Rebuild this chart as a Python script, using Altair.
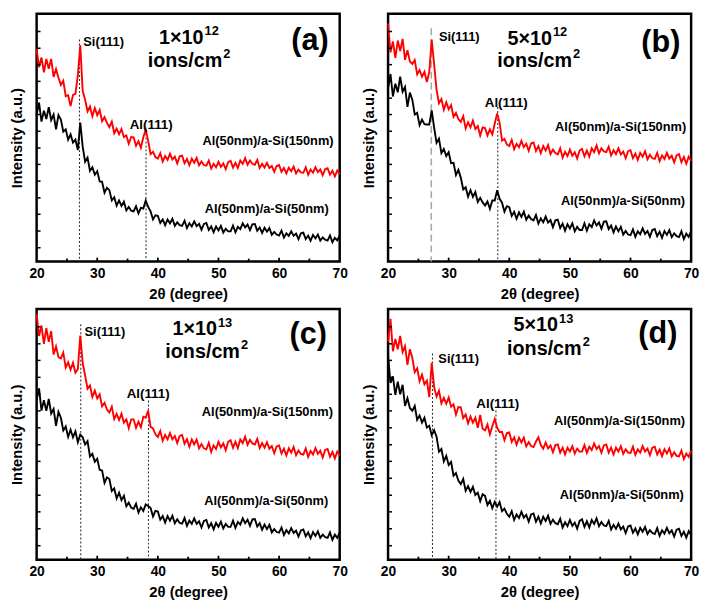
import altair as alt
import pandas as pd

# 2-theta sampling grid (degrees), 0.4 deg steps from 20 to 70
two_theta = [round(20 + 0.4 * i, 1) for i in range(126)]

# ---- panel (a) 1x10^12 ions/cm2 ----
a_red = [660, 604, 634, 588, 630, 599, 630, 574, 598, 571,
         549, 562, 514, 517, 483, 518, 521, 579, 672, 530,
         503, 467, 482, 452, 477, 455, 471, 436, 449, 431,
         418, 435, 399, 413, 396, 412, 387, 392, 366, 387,
         386, 360, 374, 354, 386, 410, 375, 334, 341, 325,
         320, 337, 311, 328, 316, 335, 317, 326, 305, 327,
         329, 306, 319, 300, 320, 307, 322, 299, 311, 300,
         298, 314, 289, 304, 293, 310, 294, 305, 287, 309,
         313, 292, 307, 291, 314, 304, 322, 301, 314, 304,
         301, 316, 291, 304, 292, 307, 291, 297, 279, 297,
         300, 279, 291, 274, 292, 281, 295, 274, 286, 277,
         276, 293, 270, 286, 276, 293, 278, 286, 268, 287,
         290, 270, 282, 265, 283, 272]
a_black = [457, 494, 435, 469, 443, 480, 440, 457, 411, 455,
           441, 404, 411, 379, 395, 370, 379, 347, 432, 357,
           310, 323, 282, 293, 270, 281, 249, 248, 214, 229,
           222, 190, 200, 174, 190, 173, 186, 159, 170, 158,
           156, 172, 150, 167, 165, 190, 170, 156, 131, 144,
           142, 120, 131, 113, 131, 119, 133, 111, 122, 113,
           111, 127, 104, 119, 109, 125, 110, 117, 99, 117,
           120, 98, 109, 91, 109, 97, 111, 90, 102, 94,
           94, 112, 91, 108, 101, 119, 106, 115, 98, 116,
           117, 96, 106, 89, 105, 93, 104, 83, 92, 84,
           81, 96, 75, 88, 80, 94, 80, 87, 70, 88,
           90, 70, 81, 65, 83, 72, 84, 65, 75, 68,
           65, 81, 60, 74, 66, 81]

# ---- panel (b) 5x10^12 ions/cm2 ----
b_red = [740, 650, 684, 633, 687, 654, 692, 627, 657, 622,
         614, 626, 582, 595, 575, 590, 558, 589, 690, 613,
         533, 492, 505, 472, 495, 473, 486, 450, 462, 443,
         434, 452, 414, 433, 417, 438, 412, 421, 392, 417,
         415, 392, 411, 395, 429, 460, 432, 376, 381, 364,
         359, 378, 349, 366, 355, 375, 356, 366, 344, 367,
         370, 344, 359, 337, 359, 345, 362, 334, 348, 337,
         333, 352, 323, 341, 328, 348, 329, 340, 320, 345,
         350, 327, 345, 326, 352, 340, 361, 336, 352, 342,
         340, 357, 330, 346, 334, 352, 333, 342, 321, 343,
         346, 321, 336, 316, 338, 326, 343, 318, 332, 321,
         319, 338, 312, 330, 319, 338, 320, 329, 308, 330,
         334, 309, 325, 304, 326, 313]
b_black = [539, 583, 513, 553, 526, 575, 528, 543, 481, 525,
           503, 457, 462, 424, 441, 427, 426, 426, 470, 416,
           369, 382, 337, 350, 328, 340, 306, 307, 269, 285,
           261, 224, 231, 202, 222, 201, 216, 185, 198, 184,
           174, 187, 164, 190, 190, 222, 195, 183, 155, 172,
           169, 142, 155, 133, 153, 139, 155, 130, 143, 132,
           128, 145, 118, 134, 122, 140, 121, 129, 107, 128,
           130, 104, 118, 96, 116, 103, 119, 94, 108, 98,
           98, 119, 96, 116, 107, 128, 112, 122, 102, 124,
           125, 101, 112, 91, 109, 94, 108, 84, 95, 84,
           82, 100, 77, 94, 85, 103, 86, 95, 77, 98,
           101, 79, 93, 74, 95, 83, 98, 76, 88, 79,
           76, 94, 70, 87, 77, 95]

# ---- panel (c) 1x10^13 ions/cm2 ----
c_red = [755, 687, 719, 663, 711, 669, 702, 630, 655, 622,
         618, 636, 590, 606, 584, 605, 574, 585, 688, 604,
         566, 525, 535, 500, 519, 495, 508, 471, 482, 461,
         452, 470, 432, 448, 429, 448, 421, 431, 404, 431,
         431, 405, 424, 407, 439, 436, 458, 408, 403, 385,
         377, 395, 365, 383, 370, 389, 370, 380, 358, 380,
         383, 356, 370, 347, 369, 354, 369, 342, 355, 342,
         339, 359, 331, 351, 340, 362, 345, 357, 336, 362,
         367, 344, 362, 343, 369, 358, 378, 353, 368, 357,
         354, 371, 343, 358, 344, 361, 341, 349, 327, 348,
         351, 326, 341, 320, 342, 329, 346, 321, 335, 325,
         323, 342, 316, 334, 323, 343, 325, 335, 314, 337,
         340, 316, 331, 311, 332, 320]
c_black = [491, 526, 458, 490, 457, 494, 449, 463, 411, 454,
           436, 397, 409, 377, 399, 376, 394, 361, 384, 376,
           354, 364, 317, 325, 301, 310, 276, 274, 236, 253,
           248, 211, 219, 188, 206, 183, 196, 164, 175, 160,
           156, 172, 145, 161, 150, 170, 165, 159, 133, 150,
           148, 123, 134, 114, 134, 120, 135, 112, 124, 113,
           111, 128, 104, 120, 110, 127, 110, 118, 99, 119,
           122, 99, 112, 93, 113, 101, 117, 96, 110, 101,
           101, 120, 98, 116, 108, 127, 112, 123, 104, 124,
           125, 102, 112, 92, 108, 94, 107, 84, 94, 85,
           83, 99, 76, 91, 81, 97, 82, 89, 71, 90,
           93, 72, 84, 66, 85, 73, 87, 67, 77, 69,
           67, 84, 61, 77, 67, 84]

# ---- panel (d) 5x10^13 ions/cm2 ----
d_red = [669, 740, 640, 678, 646, 687, 638, 656, 598, 646,
         620, 576, 588, 548, 568, 539, 550, 499, 605, 530,
         501, 519, 480, 497, 479, 498, 470, 477, 446, 469,
         468, 435, 446, 419, 440, 421, 436, 405, 445, 402,
         397, 415, 385, 410, 432, 405, 392, 393, 367, 389,
         391, 362, 376, 353, 375, 360, 375, 348, 361, 349,
         346, 363, 376, 352, 341, 360, 342, 351, 330, 352,
         354, 329, 344, 323, 344, 332, 349, 326, 341, 332,
         332, 352, 328, 347, 337, 357, 340, 349, 329, 351,
         354, 329, 344, 323, 344, 332, 349, 325, 339, 329,
         328, 347, 322, 339, 329, 349, 332, 341, 321, 344,
         347, 323, 338, 318, 339, 326, 342, 317, 330, 319,
         317, 335, 309, 326, 316, 335]
d_black = [625, 543, 563, 506, 547, 508, 537, 472, 496, 466,
           457, 472, 430, 443, 421, 436, 406, 411, 382, 398,
           378, 332, 340, 302, 319, 291, 300, 258, 266, 243,
           232, 248, 212, 226, 208, 224, 199, 206, 180, 201,
           196, 168, 181, 158, 178, 163, 177, 149, 157, 141,
           132, 149, 122, 139, 128, 147, 129, 138, 117, 139,
           142, 117, 132, 111, 132, 119, 135, 110, 123, 112,
           109, 126, 99, 115, 103, 122, 104, 114, 95, 119,
           124, 101, 118, 99, 122, 110, 127, 103, 116, 105,
           103, 119, 93, 107, 95, 111, 93, 102, 82, 102,
           105, 83, 96, 78, 98, 86, 101, 79, 91, 82,
           79, 97, 73, 90, 80, 98, 81, 90, 71, 92,
           95, 73, 86, 68, 88, 76]

series_names = ["Al(50nm)/a-Si(150nm)", "Al(50nm)/a-Si(50nm)"]
series_colors = ["#ff0000", "#000000"]

# peak marker lines: (2theta, top of line)
a_lines = [(27.07, 690), (38.05, 410)]
b_lines = [(27.13, 725), (38.1, 480)]
c_lines = [(27.28, 723), (38.45, 489)]
d_lines = [(27.33, 633), (37.8, 458)]

# dose texts: (base, exponent)
a_dose = [("1×10", "12"), ("ions/cm", "2"), "(a)"]
b_dose = [("5×10", "12"), ("ions/cm", "2"), "(b)"]
c_dose = [("1×10", "13"), ("ions/cm", "2"), "(c)"]
d_dose = [("5×10", "13"), ("ions/cm", "2"), "(d)"]

# annotation anchors (2theta, intensity)
a_pos = {"si": (27.7, 683), "dose": (45.1, 695), "ions": (45.1, 623), "tag": (65.1, 685),
         "al": (38.9, 425), "s150": (69.0, 375), "s50": (68.2, 163)}
b_pos = {"si": (28.4, 698), "dose": (44.6, 693), "ions": (44.8, 623), "tag": (65.0, 678),
         "al": (39.5, 493), "s150": (69.2, 418), "s50": (69.0, 188)}
c_pos = {"si": (27.9, 700), "dose": (47.3, 707), "ions": (48.0, 637), "tag": (64.8, 690),
         "al": (38.4, 508), "s150": (68.9, 452), "s50": (68.1, 180)}
d_pos = {"si": (28.3, 616), "dose": (45.6, 719), "ions": (46.4, 647), "tag": (64.5, 693),
         "al": (38.1, 477), "s150": (69.0, 427), "s50": (68.8, 199)}

y_tick_vals = [43, 95, 147, 198, 250, 302, 353, 405, 457, 508, 560, 612, 663, 715]
x_major = [30, 40, 50, 60]
x_minor = [25, 35, 45, 55, 65]

FONT = "Liberation Sans"
W = 307


def panel(red, black, lines, dose, pos, si_gray, height):
    df = pd.DataFrame({
        "x": two_theta + two_theta,
        "y": red + black,
        "s": [series_names[0]] * len(red) + [series_names[1]] * len(black),
    })
    xenc = alt.X("x:Q", scale=alt.Scale(domain=[20, 70], nice=False, zero=False),
                 axis=alt.Axis(values=[20, 30, 40, 50, 60, 70], format="d", labelFlush=False),
                 title="2θ (degree)")
    yenc = alt.Y("y:Q", scale=alt.Scale(domain=[0, 770], nice=False, zero=False),
                 axis=alt.Axis(labels=False, ticks=False, domain=False, grid=False),
                 title="Intensity (a.u.)")
    curves = alt.Chart(df).mark_line(strokeWidth=1.9, interpolate="linear").encode(
        x=xenc, y=yenc,
        color=alt.Color("s:N", scale=alt.Scale(domain=series_names, range=series_colors), legend=None),
    )
    ldf = pd.DataFrame({"x": [l[0] for l in lines], "top": [l[1] for l in lines], "kind": ["si", "al"]})
    si_rule = alt.Chart(ldf[ldf.kind == "si"]).mark_rule(
        color="#a8a8a8" if si_gray else "#333333",
        strokeDash=[7, 4] if si_gray else [2, 2],
        strokeWidth=1.6 if si_gray else 1.1,
    ).encode(x="x:Q", y="top:Q", y2=alt.datum(0))
    al_rule = alt.Chart(ldf[ldf.kind == "al"]).mark_rule(
        color="#333333", strokeDash=[2, 2], strokeWidth=1.1
    ).encode(x="x:Q", y="top:Q", y2=alt.datum(0))

    ytk = alt.Chart(pd.DataFrame({"v": y_tick_vals})).mark_rule(color="black", strokeWidth=1.5).encode(
        y="v:Q", x=alt.value(0), x2=alt.value(4))
    xmaj = alt.Chart(pd.DataFrame({"v": x_major})).mark_rule(color="black", strokeWidth=1.8).encode(
        x="v:Q", y=alt.value(height), y2=alt.value(height - 4))
    xmin = alt.Chart(pd.DataFrame({"v": x_minor})).mark_rule(color="black", strokeWidth=1.8).encode(
        x="v:Q", y=alt.value(height), y2=alt.value(height - 3))

    def txt(x, y, t, size, align, dx=0, dy=0):
        return alt.Chart(pd.DataFrame({"x": [x], "y": [y], "t": [t]})).mark_text(
            font=FONT, fontWeight="bold", fontSize=size, align=align, baseline="middle",
            color="black", dx=dx, dy=dy
        ).encode(x="x:Q", y="y:Q", text="t:N")

    texts = [
        txt(*pos["si"], "Si(111)", 13, "left"),
        txt(*pos["dose"], dose[0][0], 20, "right", dx=15),
        txt(*pos["dose"], dose[0][1], 13, "left", dx=16, dy=-7),
        txt(*pos["ions"], dose[1][0], 20, "right", dx=34),
        txt(*pos["ions"], dose[1][1], 13, "left", dx=35, dy=-7),
        txt(*pos["tag"], dose[2], 31, "center"),
        txt(*pos["al"], "Al(111)", 13.5, "center"),
        txt(*pos["s150"], series_names[0], 13, "right"),
        txt(*pos["s50"], series_names[1], 13, "right"),
    ]
    return alt.layer(si_rule, al_rule, curves, ytk, xmaj, xmin, *texts).properties(width=W, height=height)


pa = panel(a_red, a_black, a_lines, a_dose, a_pos, False, 251)
pb = panel(b_red, b_black, b_lines, b_dose, b_pos, True, 251)
pc = panel(c_red, c_black, c_lines, c_dose, c_pos, False, 254)
pd_ = panel(d_red, d_black, d_lines, d_dose, d_pos, False, 254)

chart = alt.vconcat(
    alt.hconcat(pa, pb, spacing=10),
    alt.hconcat(pc, pd_, spacing=10),
    spacing=4,
).configure_view(stroke="black", strokeWidth=2.5).configure_axis(
    labelFont=FONT, labelFontSize=14, labelFontWeight="bold", labelColor="black", labelPadding=5,
    titleFont=FONT, titleFontSize=15, titleFontWeight="bold", titleColor="black",
    ticks=False, domain=False, grid=False,
).configure_axisX(titlePadding=6).configure_axisY(titlePadding=12).properties(
    background="white", padding={"left": 0, "top": 0, "right": 0, "bottom": 0}
)

chart.save("out.html", embed_options={"renderer": "svg", "actions": False})
